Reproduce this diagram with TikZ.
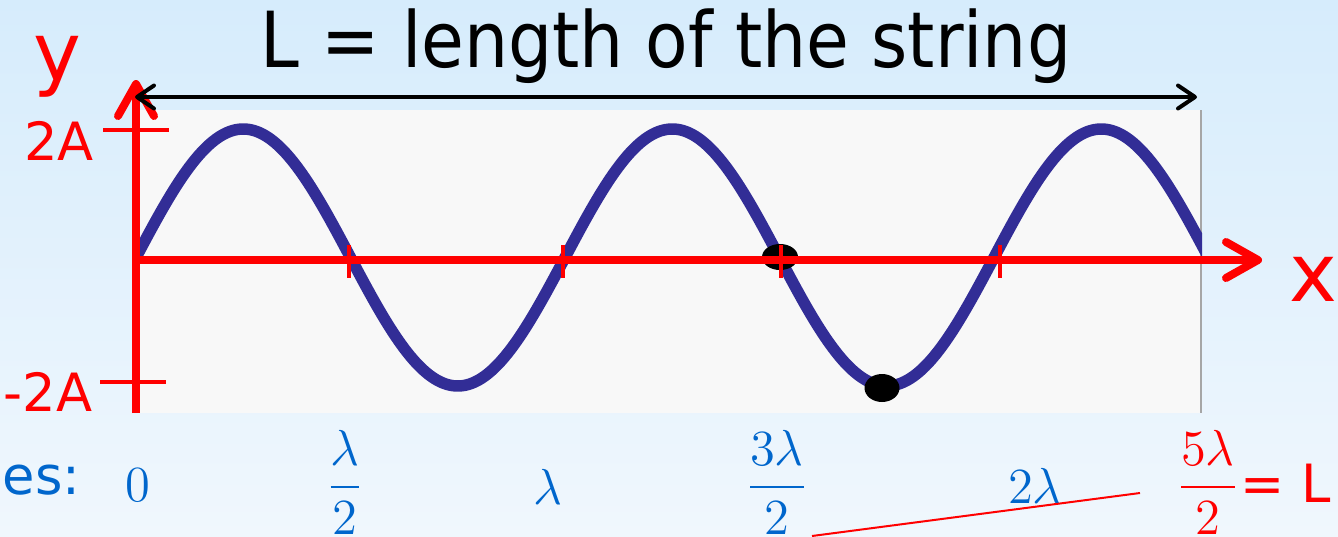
\documentclass[tikz,border=0pt]{standalone}
\usepackage{amsmath}
\usepackage{graphicx}
\usepackage{fontspec}
\newfontfamily\handfont{DejaVu Sans}
\usetikzlibrary{arrows.meta}

\definecolor{bgtop}{RGB}{214,236,252}
\definecolor{bgbot}{RGB}{240,247,253}
\definecolor{plotgrey}{RGB}{248,248,248}
\definecolor{wavecol}{RGB}{50,45,150}
\definecolor{labblue}{RGB}{0,102,204}

\begin{document}
\begin{tikzpicture}[x=0.1mm,y=-0.1mm,
  axis/.style={red,line width=0.8mm,-{Straight Barb[length=3.2mm,width=3.6mm,round]}},
  tick/.style={red,line width=0.45mm},
  hand/.style={font=\handfont\fontsize{#1}{#1}\selectfont},
  poslab/.style={labblue,inner sep=0pt,font=\fontsize{15}{17}\selectfont}]
  \useasboundingbox (0,0) rectangle (1338,536);
  \shade[top color=bgtop,bottom color=bgbot] (0,0) rectangle (1338,536);
  % the string's window
  \fill[plotgrey] (140,110) rectangle (1202,413);
  \draw[gray!70,line width=0.2mm] (1201,110) -- (1201,413);
  \begin{scope}
    \clip (140,100) rectangle (1202,420);
    \draw[wavecol,line width=1.15mm,domain=130:1210,samples=240,smooth]
      plot (\x,{257.5-128.5*sin(0.83916*(\x-136))});
  \end{scope}
  \fill (780,257) ellipse [x radius=1.8mm,y radius=1.3mm];
  \fill (882,388) ellipse [x radius=1.75mm,y radius=1.4mm];
  % axes and ticks
  \draw[axis] (136,413) -- (136,80);
  \draw[axis] (136,260) -- (1262,260);
  \draw[tick] (103,130) -- (169,130);
  \draw[tick] (100,382) -- (166,382);
  \foreach \t in {349,563,781,1000}
    \draw[tick] (\t,245) -- (\t,278);
  % length of the string
  \draw[line width=0.4mm,{Straight Barb[length=1.7mm,width=2.3mm,round]}-{Straight Barb[length=1.7mm,width=2.3mm,round]}]
    (135,97) -- (1197,97);
  \node[hand=22] (title) at (666,46) {\scalebox{0.9}[1]{L = length of the string}};
  \node[hand=23,red] (ylab) at (57,67) {y};
  \node[hand=23,red] (xlab) at (1313,279) {x};
  \node[hand=15,red] (top) at (59,141) {2A};
  \node[hand=15,red] (bot) at (48,392) {-2A};
  % node positions along x
  \node[hand=15,labblue,anchor=west,inner sep=0pt] (es) at (2,480) {es:};
  \node[poslab] (p0) at (138,485) {$0$};
  \node[poslab] (p1) at (345,482) {$\dfrac{\lambda}{2}$};
  \node[poslab] (p2) at (548,487) {$\lambda$};
  \node[poslab] (p3) at (777,482) {$\dfrac{3\lambda}{2}$};
  \node[poslab] (p4) at (1035,486) {$2\lambda$};
  \node[poslab,red] (p5) at (1208,482) {$\dfrac{5\lambda}{2}$};
  \node[hand=15,red] (eqL) at (1286,483) {= L};
  \coordinate (lineA) at (812,536);
  \coordinate (lineB) at (1140,493);
  \draw[red,line width=0.2mm] (lineA) -- (lineB);
\end{tikzpicture}
\end{document}
